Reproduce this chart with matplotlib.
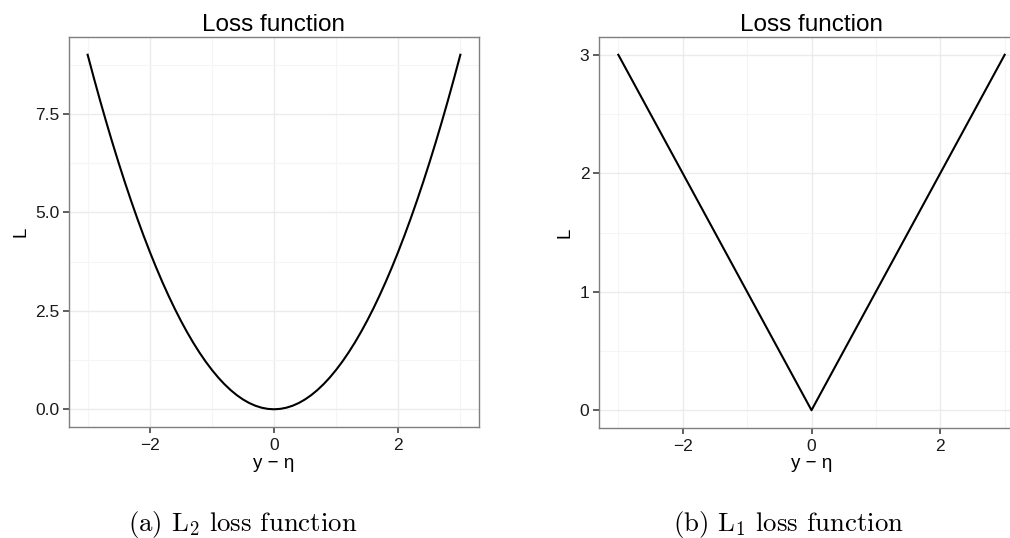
import matplotlib
matplotlib.use("Agg")
import matplotlib.pyplot as plt
from matplotlib.ticker import MultipleLocator, FormatStrFormatter

plt.rcParams['font.family'] = ['Liberation Sans', 'DejaVu Sans']
plt.rcParams['mathtext.fontset'] = 'cm'

# L2 loss
l2_x = [-3.0, -2.9, -2.8, -2.7, -2.6, -2.5, -2.4, -2.3, -2.2, -2.1,
        -2.0, -1.9, -1.8, -1.7, -1.6, -1.5, -1.4, -1.3, -1.2, -1.1,
        -1.0, -0.9, -0.8, -0.7, -0.6, -0.5, -0.4, -0.3, -0.2, -0.1,
        0.0,
        0.1, 0.2, 0.3, 0.4, 0.5, 0.6, 0.7, 0.8, 0.9, 1.0,
        1.1, 1.2, 1.3, 1.4, 1.5, 1.6, 1.7, 1.8, 1.9, 2.0,
        2.1, 2.2, 2.3, 2.4, 2.5, 2.6, 2.7, 2.8, 2.9, 3.0]
l2_y = [9.00, 8.41, 7.84, 7.29, 6.76, 6.25, 5.76, 5.29, 4.84, 4.41,
        4.00, 3.61, 3.24, 2.89, 2.56, 2.25, 1.96, 1.69, 1.44, 1.21,
        1.00, 0.81, 0.64, 0.49, 0.36, 0.25, 0.16, 0.09, 0.04, 0.01,
        0.00,
        0.01, 0.04, 0.09, 0.16, 0.25, 0.36, 0.49, 0.64, 0.81, 1.00,
        1.21, 1.44, 1.69, 1.96, 2.25, 2.56, 2.89, 3.24, 3.61, 4.00,
        4.41, 4.84, 5.29, 5.76, 6.25, 6.76, 7.29, 7.84, 8.41, 9.00]

# L1 loss
l1_x = [-3.0, 0.0, 3.0]
l1_y = [3.0, 0.0, 3.0]

W, H = 1010, 538
fig = plt.figure(figsize=(W / 100, H / 100), dpi=100)


def px_axes(left, top, right, bottom):
    return fig.add_axes([left / W, 1 - bottom / H, (right - left) / W, (bottom - top) / H])


def style(ax, ymajor, yminor):
    ax.set_facecolor('white')
    ax.xaxis.set_major_locator(MultipleLocator(2))
    ax.xaxis.set_minor_locator(MultipleLocator(1))
    ax.yaxis.set_major_locator(MultipleLocator(ymajor))
    ax.yaxis.set_minor_locator(MultipleLocator(yminor))
    ax.grid(which='major', color='#EBEBEB', lw=1.0)
    ax.grid(which='minor', color='#F5F5F5', lw=0.8)
    ax.set_axisbelow(True)
    for s in ax.spines.values():
        s.set_color('#7F7F7F')
        s.set_linewidth(1.0)
    ax.tick_params(which='major', direction='out', length=4.5, width=1.1, color='#333333',
                   labelsize=12.5, labelcolor='#1a1a1a')
    ax.tick_params(axis='x', pad=3.5)
    ax.tick_params(axis='y', pad=2.5)
    ax.tick_params(which='minor', length=0)
    ax.set_title('Loss function', fontsize=17.5, pad=4)
    ax.set_xlabel('y − η', fontsize=13.5, labelpad=1)
    ax.set_ylabel('L', fontsize=13.5, labelpad=4)


ax1 = px_axes(69, 37, 479, 427)
ax1.plot(l2_x, l2_y, color='black', lw=1.5)
ax1.set_xlim(-3.3, 3.3)
ax1.set_ylim(-0.45, 9.45)
style(ax1, 2.5, 1.25)
ax1.yaxis.set_major_formatter(FormatStrFormatter('%.1f'))

ax2 = px_axes(599, 37, 1024, 428)
ax2.plot(l1_x, l1_y, color='black', lw=1.5)
ax2.set_xlim(-3.3, 3.3)
ax2.set_ylim(-0.15, 3.15)
style(ax2, 1, 0.5)
ax2.spines['right'].set_visible(False)

cap_kw = dict(fontsize=19.3, family='cmr10', ha='center', va='baseline')
fig.text(243 / W, 1 - 531 / H, r'(a) L$_2$ loss function', **cap_kw)
fig.text(788 / W, 1 - 531 / H, r'(b) L$_1$ loss function', **cap_kw)

fig.savefig('out.png', dpi=100)
